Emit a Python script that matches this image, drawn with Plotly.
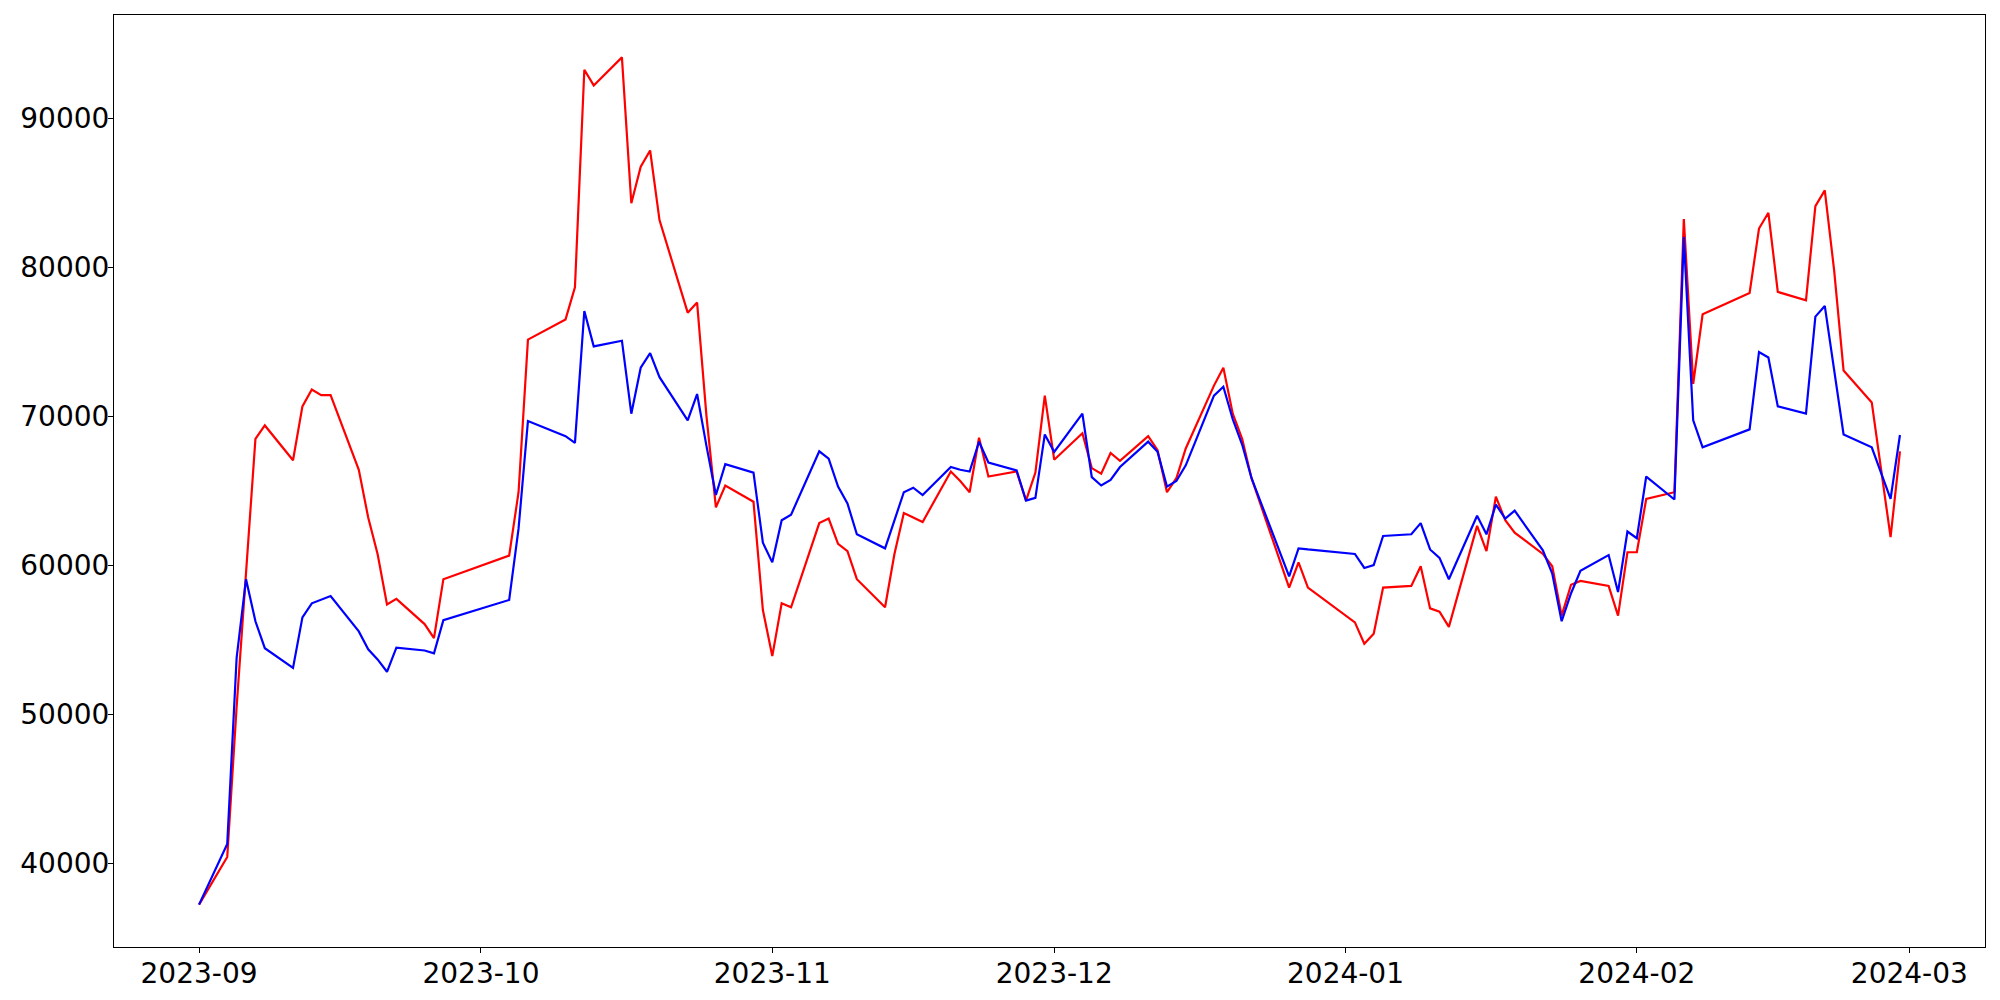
import plotly.graph_objects as go

dates = [
    "2023-09-01", "2023-09-04", "2023-09-05", "2023-09-06", "2023-09-07", "2023-09-08",
    "2023-09-11", "2023-09-12", "2023-09-13", "2023-09-14", "2023-09-15",
    "2023-09-18", "2023-09-19", "2023-09-20", "2023-09-21", "2023-09-22",
    "2023-09-25", "2023-09-26", "2023-09-27",
    "2023-10-04", "2023-10-05", "2023-10-06",
    "2023-10-10", "2023-10-11", "2023-10-12", "2023-10-13",
    "2023-10-16", "2023-10-17", "2023-10-18", "2023-10-19", "2023-10-20",
    "2023-10-23", "2023-10-24", "2023-10-25", "2023-10-26", "2023-10-27",
    "2023-10-30", "2023-10-31",
    "2023-11-01", "2023-11-02", "2023-11-03",
    "2023-11-06", "2023-11-07", "2023-11-08", "2023-11-09", "2023-11-10",
    "2023-11-13", "2023-11-14", "2023-11-15", "2023-11-16", "2023-11-17",
    "2023-11-20", "2023-11-21", "2023-11-22", "2023-11-23", "2023-11-24",
    "2023-11-27", "2023-11-28", "2023-11-29", "2023-11-30",
    "2023-12-01",
    "2023-12-04", "2023-12-05", "2023-12-06", "2023-12-07", "2023-12-08",
    "2023-12-11", "2023-12-12", "2023-12-13", "2023-12-14", "2023-12-15",
    "2023-12-18", "2023-12-19", "2023-12-20", "2023-12-21", "2023-12-22",
    "2023-12-26", "2023-12-27", "2023-12-28",
    "2024-01-02", "2024-01-03", "2024-01-04", "2024-01-05",
    "2024-01-08", "2024-01-09", "2024-01-10", "2024-01-11", "2024-01-12",
    "2024-01-15", "2024-01-16", "2024-01-17", "2024-01-18", "2024-01-19",
    "2024-01-22", "2024-01-23", "2024-01-24", "2024-01-25", "2024-01-26",
    "2024-01-29", "2024-01-30", "2024-01-31",
    "2024-02-01", "2024-02-02",
    "2024-02-05", "2024-02-06", "2024-02-07", "2024-02-08",
    "2024-02-13", "2024-02-14", "2024-02-15", "2024-02-16",
    "2024-02-19", "2024-02-20", "2024-02-21", "2024-02-22", "2024-02-23",
    "2024-02-26", "2024-02-27", "2024-02-28", "2024-02-29",
]

red_values = [
    # Sep
    37210, 40413, 50500, 59500, 68484, 69389, 67052, 70670, 71800, 71423, 71423,
    66412, 63209, 60760, 57369, 57746, 56050, 55108, 59064,
    # Oct
    60647, 64904, 75154, 76510, 78658, 93278, 92223, 94107, 84310, 86759, 87852,
    83180, 76962, 77641, 70000, 63888, 65357, 64264, 56992,
    # Nov
    53902, 57444, 57180, 62832, 63134, 61438, 60948, 59064, 57180, 60760, 63511,
    63209, 62908, 66299, 65658, 64904, 68559, 65959, 66299, 64340, 66224, 71386,
    # Dec
    67090, 68861, 66525, 66148, 67543, 67015, 68673, 67731, 64904, 65846, 67844,
    72064, 73270, 70180, 68484, 65846, 58500, 60195, 58500,
    # Jan
    56164, 54731, 55409, 58500, 58612, 59931, 57105, 56879, 55862, 62644, 60948,
    64604, 63021, 62192, 60760, 59931, 56616, 58688, 58952, 58612, 56616, 60874,
    # Feb
    60874, 64453, 64904, 83255, 72177, 76849, 78281, 82614, 83669, 78356, 77791,
    84121, 85176, 79788, 73081, 70933, 66412, 61890, 67655,
]

blue_values = [
    # Sep
    37210, 41280, 53789, 59064, 56238, 54430, 53111, 56502, 57444, 57670, 57934,
    55560, 54355, 53676, 52847, 54467, 54279, 54091, 56314,
    # Oct
    57670, 62455, 69690, 68673, 68221, 77075, 74701, 75078, 70180, 73269, 74249,
    72629, 69728, 71499, 68000, 64716, 66789, 66224, 61513,
    # Nov
    60195, 63021, 63397, 67655, 67165, 65280, 64151, 62079, 61137, 63021, 64904,
    65206, 64716, 66600, 66412, 66299, 68296, 66902, 66375, 64340, 64528, 68786,
    # Dec
    67617, 70180, 65921, 65357, 65733, 66600, 68300, 67617, 65282, 65658, 66713,
    71386, 71989, 69803, 68107, 65846, 59253, 61137, 61061,
    # Jan
    60760, 59818, 60006, 61966, 62079, 62832, 61061, 60496, 59064, 63322, 62079,
    64076, 63134, 63662, 61000, 59441, 56239, 58123, 59630, 60685, 58198, 62267,
    # Feb
    61815, 65959, 64415, 82049, 69728, 67919, 69125, 74325, 73948, 70671, 70180,
    76698, 77415, 73119, 68786, 67919, 66186, 64453, 68749,
]

y_tick_values = [40000, 50000, 60000, 70000, 80000, 90000]

fig = go.Figure()
fig.add_trace(go.Scatter(x=dates, y=red_values, mode="lines",
                         line=dict(color="#ff0000", width=2.2), showlegend=False))
fig.add_trace(go.Scatter(x=dates, y=blue_values, mode="lines",
                         line=dict(color="#0000ff", width=2.2), showlegend=False))

all_vals = red_values + blue_values
vmin, vmax = min(all_vals), max(all_vals)
pad = 0.05 * (vmax - vmin)

axis_common = dict(
    showgrid=False, zeroline=False, showline=True, linecolor="black",
    linewidth=1.1, mirror=True, ticks="outside", ticklen=5, tickwidth=1.1,
    tickcolor="black", tickfont=dict(family="DejaVu Sans", size=28, color="black"),
    automargin=False,
)

fig.update_xaxes(
    type="date",
    range=["2023-08-22 22:48", "2024-03-09 01:12"],
    tick0="2023-09-01", dtick="M1", tickformat="%Y-%m",
    ticklabelstandoff=-4,
    **axis_common,
)
fig.update_yaxes(
    range=[vmin - pad, vmax + pad],
    tickvals=y_tick_values, ticktext=[str(v) for v in y_tick_values],
    ticklabelstandoff=-7,
    **axis_common,
)

# The page body has an 8px default margin, so the figure is sized and its
# margins set so that the plot area lands where the reference has it.
fig.update_layout(
    width=1984, height=984,
    margin=dict(l=106, r=7, t=7, b=45, pad=0),
    paper_bgcolor="white", plot_bgcolor="white",
    font=dict(family="DejaVu Sans", color="black"),
)

fig.write_html("out.html")
